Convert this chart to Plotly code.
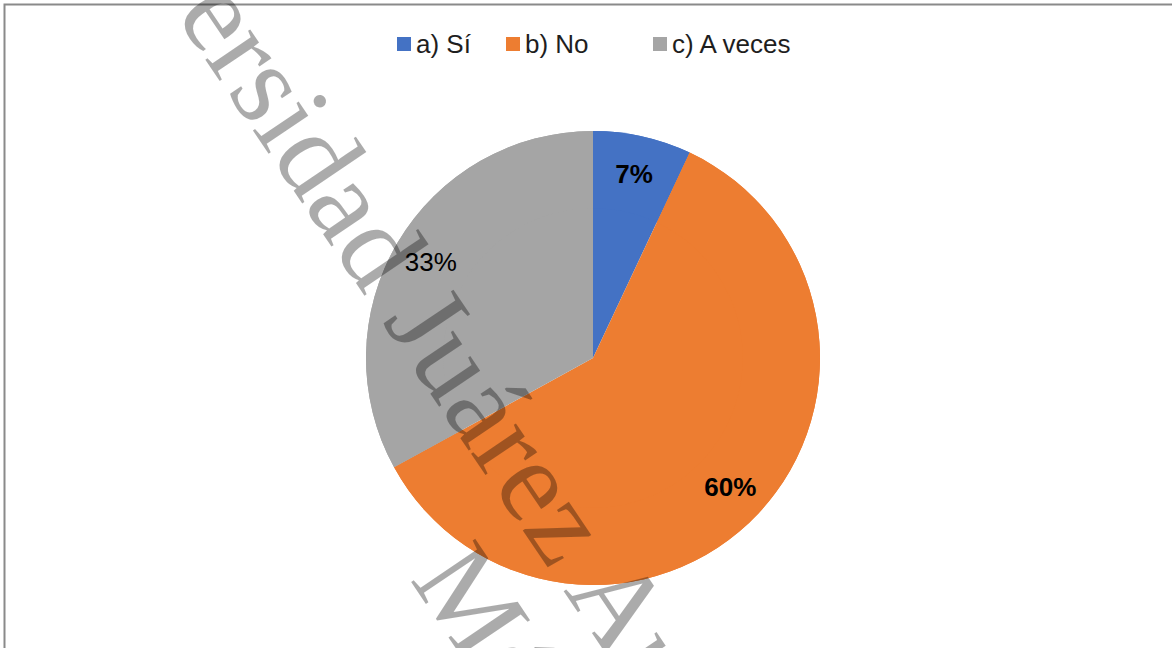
import plotly.graph_objects as go

# ---- data ----
labels = ["a) Sí", "b) No", "c) A veces"]
values = [7, 60, 33]
colors = ["#4472C4", "#ED7D31", "#A5A5A5"]
label_templates = ["<b>%{percent:.0%}</b>", "<b>%{percent:.0%}</b>", "%{percent:.0%}"]
watermark_lines = ["Universidad Juárez Autónoma de Tabasco", "México"]

# ---- layout constants (px) ----
W, H = 1172, 648
cx, cy, R = 593, 358, 227            # pie centre / radius
legend_key_x = [397, 506, 653]       # left edge of each legend key
legend_y = 44                        # legend row centre
key = 14                             # legend key size

dom_x = [(cx - R) / W, (cx + R) / W]
dom_y = [1 - (cy + R) / H, 1 - (cy - R) / H]

fig = go.Figure()
# full pie (fills the whole disc)
fig.add_trace(go.Pie(
    labels=labels, values=values, sort=False, direction="clockwise", rotation=0,
    marker=dict(colors=colors, line=dict(width=0)),
    textinfo="none", showlegend=False, hoverinfo="skip",
    domain=dict(x=dom_x, y=dom_y),
))
# ring on top carrying the data labels near the outer edge
fig.add_trace(go.Pie(
    labels=labels, values=values, sort=False, direction="clockwise", rotation=0,
    hole=0.66,
    marker=dict(colors=colors, line=dict(width=0)),
    texttemplate=label_templates, textposition="inside",
    insidetextorientation="horizontal",
    textfont=dict(family="Liberation Sans", size=26, color="black"),
    showlegend=False,
    domain=dict(x=dom_x, y=dom_y),
))

# legend (keys + labels)
for lab, col, kx in zip(labels, colors, legend_key_x):
    fig.add_shape(type="rect", xref="paper", yref="paper",
                  x0=kx / W, x1=(kx + key) / W,
                  y0=1 - (legend_y + key / 2) / H, y1=1 - (legend_y - key / 2) / H,
                  fillcolor=col, line=dict(width=0))
    fig.add_annotation(text=lab, x=(kx + key + 3) / W, y=1 - legend_y / H,
                       xref="paper", yref="paper", showarrow=False,
                       xanchor="left", yanchor="middle",
                       font=dict(family="Liberation Sans", size=26, color="#1e1e1e"))

# watermark
wm_font = dict(family="Liberation Serif", size=118, color="rgba(0,0,0,0.33)")
fig.add_annotation(text=watermark_lines[0], x=630 / W, y=1 - 618 / H, xref="paper", yref="paper",
                   showarrow=False, textangle=56, font=wm_font, xanchor="center", yanchor="middle")
fig.add_annotation(text=watermark_lines[1], x=543 / W, y=1 - 706 / H, xref="paper", yref="paper",
                   showarrow=False, textangle=56, font=wm_font, xanchor="center", yanchor="middle")

# chart frame (cropped on right and bottom)
fig.add_shape(type="rect", xref="paper", yref="paper",
              x0=4.5 / W, x1=1.05, y0=-0.05, y1=1 - 4.5 / H,
              line=dict(color="#8a8a8a", width=2), fillcolor="rgba(0,0,0,0)", layer="above")

fig.update_layout(
    width=W, height=H,
    margin=dict(l=0, r=0, t=0, b=0),
    paper_bgcolor="white", plot_bgcolor="white",
    showlegend=False,
)

fig.write_html("out.html", config={"displayModeBar": False},
               post_script="document.body.style.margin='0';document.body.style.overflow='hidden';")
